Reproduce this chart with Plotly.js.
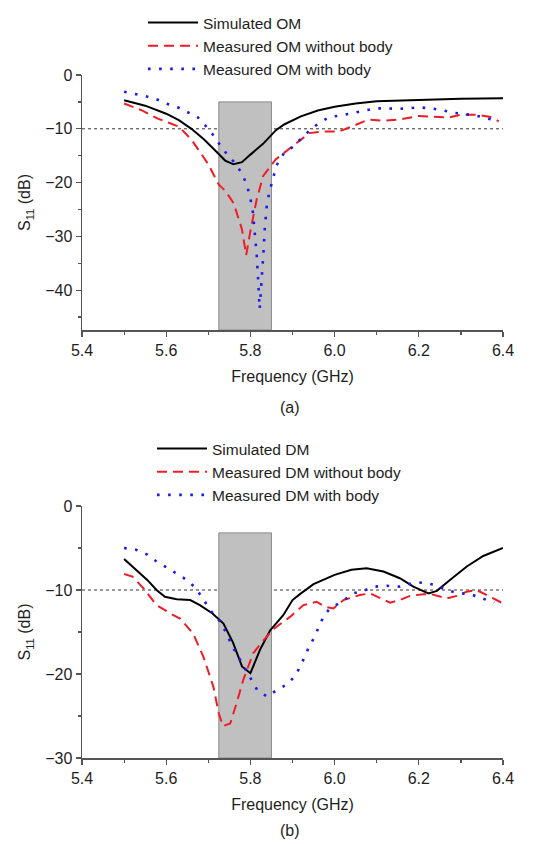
<!DOCTYPE html>
<html>
<head>
<meta charset="utf-8">
<script src="https://cdn.plot.ly/plotly-3.0.1.min.js"></script>
<style>
  html, body { margin: 0; padding: 0; background: #fff; }
  #chart { width: 533px; height: 844px; }
</style>
</head>
<body>
<div id="chart"></div>
<script>
// ---------- Data ----------
// (a) OM
const omSimF = [5.50,5.55,5.60,5.63,5.66,5.69,5.72,5.74,5.76,5.78,5.80,5.83,5.86,5.88,5.92,5.96,6.00,6.05,6.10,6.20,6.30,6.40];
const omSimS = [-4.7,-5.7,-7.2,-8.4,-10.0,-12.0,-14.3,-15.9,-16.6,-16.2,-14.8,-12.8,-10.3,-9.2,-7.7,-6.6,-5.9,-5.3,-4.9,-4.6,-4.4,-4.3];

const omNoBodyF = [5.50,5.54,5.58,5.63,5.66,5.70,5.725,5.74,5.76,5.78,5.79,5.80,5.815,5.83,5.86,5.90,5.94,5.97,6.01,6.04,6.08,6.12,6.16,6.20,6.23,6.27,6.30,6.34,6.37,6.39];
const omNoBodyS = [-5.3,-6.5,-8.1,-9.6,-12.0,-16.6,-20.4,-21.5,-23.8,-28.7,-33.5,-29.0,-23.1,-18.8,-15.7,-13.3,-10.8,-10.5,-10.5,-9.6,-8.3,-8.5,-8.2,-7.6,-7.7,-7.9,-7.4,-7.4,-7.8,-8.6];

const omBodyF = [5.50,5.526,5.55,5.577,5.60,5.627,5.651,5.674,5.692,5.71,5.726,5.744,5.765,5.782,5.793,5.80,5.806,5.811,5.815,5.818,5.82,5.822,5.825,5.828,5.831,5.834,5.839,5.845,5.852,5.862,5.88,5.902,5.922,5.942,5.965,5.989,6.017,6.043,6.068,6.096,6.122,6.147,6.175,6.201,6.228,6.254,6.28,6.307,6.333,6.36,6.386];
const omBodyS = [-3.1,-3.5,-3.9,-4.5,-5.3,-6.0,-6.9,-7.8,-9.3,-11.0,-12.8,-14.7,-16.5,-18.6,-20.8,-23.0,-25.5,-29.6,-33.5,-37.5,-41.0,-43.5,-40.0,-37.0,-33.0,-28.7,-24.2,-21.8,-19.8,-16.8,-14.5,-13.3,-11.7,-10.2,-8.8,-7.8,-7.5,-7.1,-6.6,-6.2,-6.2,-6.3,-6.2,-6.0,-6.2,-6.5,-7.0,-7.3,-7.5,-8.0,-8.6];

// (b) DM
const dmSimF = [5.50,5.53,5.555,5.577,5.597,5.625,5.657,5.68,5.71,5.736,5.759,5.78,5.80,5.823,5.847,5.878,5.90,5.92,5.95,6.00,6.04,6.076,6.116,6.155,6.187,6.223,6.243,6.274,6.314,6.353,6.40];
const dmSimS = [-6.3,-7.6,-8.8,-10.0,-10.8,-11.1,-11.2,-11.8,-12.8,-14.0,-16.3,-19.1,-19.9,-17.1,-14.8,-13.0,-11.2,-10.4,-9.3,-8.2,-7.6,-7.4,-7.8,-8.6,-9.6,-10.4,-10.1,-8.8,-7.2,-5.95,-5.0];

const dmNoBodyF = [5.50,5.52,5.546,5.577,5.617,5.633,5.664,5.688,5.712,5.725,5.735,5.752,5.767,5.783,5.807,5.831,5.856,5.894,5.926,5.957,5.977,5.997,6.021,6.06,6.084,6.108,6.132,6.155,6.179,6.211,6.23,6.266,6.29,6.314,6.337,6.369,6.40];
const dmNoBodyS = [-8.1,-8.4,-9.8,-11.8,-13.0,-13.4,-15.2,-17.9,-21.5,-24.7,-26.2,-25.9,-23.5,-20.7,-17.5,-16.0,-14.6,-13.2,-11.8,-11.4,-12.0,-12.2,-11.2,-10.6,-10.4,-11.0,-11.5,-11.2,-10.7,-10.5,-10.5,-11.0,-10.7,-10.2,-10.0,-10.8,-11.6];

const dmBodyF = [5.50,5.528,5.554,5.577,5.604,5.629,5.652,5.672,5.69,5.708,5.732,5.744,5.757,5.771,5.787,5.801,5.816,5.84,5.866,5.892,5.911,5.924,5.938,5.952,5.964,5.975,5.989,6.017,6.044,6.068,6.096,6.124,6.155,6.183,6.211,6.238,6.266,6.296,6.323,6.352,6.379];
const dmBodyS = [-5.0,-5.2,-5.75,-6.6,-7.4,-8.2,-8.9,-9.9,-11.3,-12.6,-14.0,-15.4,-16.7,-17.9,-19.3,-20.6,-21.9,-22.7,-21.8,-21.1,-19.8,-18.5,-16.9,-15.6,-14.3,-13.0,-12.2,-11.4,-10.4,-10.1,-9.6,-9.5,-9.6,-9.2,-9.1,-9.4,-10.0,-10.4,-10.5,-11.0,-11.5];

// Band and threshold
const bandLo = 5.725, bandHi = 5.85;
const bandTopA = -5, bandTopB = -3.2;
const threshold = -10;
const yRangeA = [-47.4, 0];
const yRangeB = [-30, 0];
const xRange = [5.4, 6.4];

// ---------- Styles ----------
const FONT = 'Liberation Sans, Arial, sans-serif';
const TXT = '#1e1e1e';
const solid = {color: '#000000', width: 2};
const dashed = {color: '#ee1c24', width: 2, dash: '10px,6px'};
const dotted = {color: '#1a1aee', width: 2.6, dash: '2.6px,8.5px'};

const traces = [
  {x: omSimF, y: omSimS, name: 'Simulated OM', mode: 'lines', line: solid, xaxis: 'x', yaxis: 'y', legend: 'legend', legendgroup: 'a1'},
  {x: omNoBodyF, y: omNoBodyS, name: 'Measured OM without body', mode: 'lines', line: dashed, xaxis: 'x', yaxis: 'y', legend: 'legend', legendgroup: 'a2'},
  {x: omBodyF, y: omBodyS, name: 'Measured OM with body', mode: 'lines', line: dotted, xaxis: 'x', yaxis: 'y', legend: 'legend', legendgroup: 'a3'},
  {x: dmSimF, y: dmSimS, name: 'Simulated DM', mode: 'lines', line: solid, xaxis: 'x2', yaxis: 'y2', legend: 'legend2', legendgroup: 'b1'},
  {x: dmNoBodyF, y: dmNoBodyS, name: 'Measured DM without body', mode: 'lines', line: dashed, xaxis: 'x2', yaxis: 'y2', legend: 'legend2', legendgroup: 'b2'},
  {x: dmBodyF, y: dmBodyS, name: 'Measured DM with body', mode: 'lines', line: dotted, xaxis: 'x2', yaxis: 'y2', legend: 'legend2', legendgroup: 'b3'}
];

const W = 533, H = 844;
const xDom = [82 / W, 503 / W];
const yDomA = [1 - 330 / H, 1 - 75 / H];
const yDomB = [1 - 758 / H, 1 - 506 / H];

function xAxis(anchor) {
  return {
    domain: xDom, range: xRange, anchor: anchor,
    showgrid: false, zeroline: false, showline: true, linecolor: '#555', linewidth: 1.5,
    ticks: 'outside', ticklen: 5, tickwidth: 1.2, tickcolor: '#555',
    dtick: 0.2, tick0: 5.4, tickformat: '.1f',
    minor: {dtick: 0.1, ticks: 'outside', ticklen: 3, tickcolor: '#555', tickwidth: 1.2, showgrid: false},
    tickfont: {family: FONT, size: 16, color: TXT},
    title: {text: 'Frequency (GHz)', font: {family: FONT, size: 16, color: TXT}, standoff: 13},
    fixedrange: true
  };
}
function yAxis(anchor, dom, range) {
  return {
    domain: dom, range: range, anchor: anchor,
    showgrid: false, zeroline: false, showline: true, linecolor: '#555', linewidth: 1.5,
    ticks: 'outside', ticklen: 5, tickwidth: 1.2, tickcolor: '#555',
    dtick: 10, tick0: 0,
    minor: {dtick: 5, ticks: 'outside', ticklen: 3, tickcolor: '#555', tickwidth: 1.2, showgrid: false},
    tickfont: {family: FONT, size: 16, color: TXT},
    title: {text: 'S<sub>11</sub> (dB)', font: {family: FONT, size: 16, color: TXT}, standoff: 10},
    fixedrange: true
  };
}

function band(xref, yref, top, bottom) {
  return {type: 'rect', xref: xref, yref: yref, x0: bandLo, x1: bandHi, y0: bottom, y1: top,
          fillcolor: '#c0c0c0', line: {color: '#8a8a8a', width: 1}, layer: 'below'};
}
function thr(xref, yref) {
  return {type: 'line', xref: xref, yref: yref, x0: xRange[0], x1: xRange[1], y0: threshold, y1: threshold,
          line: {color: '#333', width: 1, dash: '3px,3px'}, layer: 'below'};
}

const legendBase = {
  xanchor: 'left', yanchor: 'top', bgcolor: 'rgba(0,0,0,0)', borderwidth: 0,
  font: {family: FONT, size: 15.5, color: TXT}, traceorder: 'grouped', tracegroupgap: 0,
  itemwidth: 50, itemclick: false, itemdoubleclick: false
};

const layout = {
  width: W, height: H,
  margin: {l: 0, r: 0, t: 0, b: 0},
  paper_bgcolor: '#fff', plot_bgcolor: '#fff',
  font: {family: FONT, color: TXT},
  showlegend: true,
  legend: Object.assign({}, legendBase, {x: 143 / W, y: 1 - 6 / H}),
  legend2: Object.assign({}, legendBase, {x: 152 / W, y: 1 - 432 / H}),
  xaxis: xAxis('y'),
  yaxis: yAxis('x', yDomA, yRangeA),
  xaxis2: xAxis('y2'),
  yaxis2: yAxis('x2', yDomB, yRangeB),
  shapes: [
    thr('x', 'y'), band('x', 'y', bandTopA, yRangeA[0]),
    thr('x2', 'y2'), band('x2', 'y2', bandTopB, yRangeB[0])
  ],
  annotations: [
    {text: '(a)', xref: 'paper', yref: 'paper', x: 290 / W, y: 1 - 407 / H, showarrow: false,
     xanchor: 'center', yanchor: 'middle', font: {family: FONT, size: 16, color: TXT}},
    {text: '(b)', xref: 'paper', yref: 'paper', x: 290 / W, y: 1 - 830 / H, showarrow: false,
     xanchor: 'center', yanchor: 'middle', font: {family: FONT, size: 16, color: TXT}}
  ]
};

Plotly.newPlot('chart', traces, layout, {displayModeBar: false, staticPlot: true});
</script>
</body>
</html>
